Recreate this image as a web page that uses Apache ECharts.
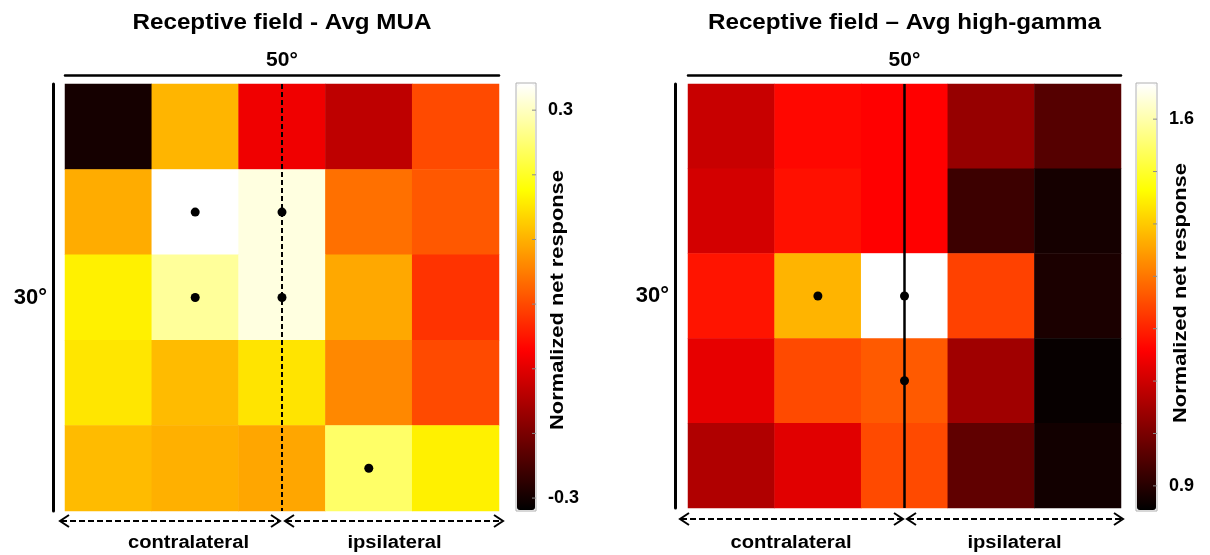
<!DOCTYPE html>
<html><head><meta charset="utf-8">
<script src="https://cdn.jsdelivr.net/npm/echarts@6/dist/echarts.min.js"></script>
<style>html,body{margin:0;padding:0;background:#fff}#c{width:1210px;height:555px}</style>
</head><body><div id="c"></div>
<script>
// ---------- data ----------
const columns = ['1', '2', '3', '4', '5'];
const rows = ['1', '2', '3', '4', '5'];
// rows top -> bottom, columns left -> right
const muaValues = [
  [-0.300, 0.104, -0.086, -0.135, 0.000],
  [0.096, 0.345, 0.322, 0.037, 0.014],
  [0.163, 0.276, 0.322, 0.092, -0.022],
  [0.152, 0.110, 0.150, 0.061, 0.000],
  [0.110, 0.100, 0.090, 0.243, 0.163]
];
const gammaValues = [
  [1.092, 1.167, 1.158, 1.032, 0.954],
  [1.105, 1.177, 1.158, 0.924, 0.877],
  [1.183, 1.375, 1.675, 1.236, 0.885],
  [1.130, 1.247, 1.266, 1.044, 0.860],
  [1.064, 1.122, 1.247, 0.967, 0.874]
];
// significant cells: [column, row]
const muaDots = [[1, 1], [2, 1], [1, 2], [2, 2], [3, 4]];
const gammaDots = [[1, 2], [2, 2], [2, 3]];
const midlineColumn = 2;
const muaRange = [-0.320, 0.342];
const gammaRange = [0.852, 1.669];
const muaTicks = [-0.3, -0.2, -0.1, 0, 0.1, 0.2, 0.3];
const muaTickLabels = [-0.3, 0.3];
const gammaTicks = [0.9, 1.0, 1.1, 1.2, 1.3, 1.4, 1.5, 1.6];
const gammaTickLabels = [0.9, 1.6];
const titles = ['Receptive field - Avg MUA', 'Receptive field \u2013 Avg high-gamma'];
const widthLabel = '50°';
const heightLabel = '30°';
const sideLabels = ['contralateral', 'ipsilateral'];
const colorbarTitle = 'Normalized net response';

// ---------- style ----------
const hot = ['#000000', '#550000', '#aa0000', '#ff0000', '#ff5500', '#ffaa00', '#ffff00', '#ffff80', '#ffffff'];
const FONT = '"Liberation Sans", Arial, sans-serif';
const panels = [
  { grid: { left: 65, top: 84, width: 434, height: 427 }, cbar: { left: 517, top: 84, width: 18, height: 426 },
    values: muaValues, dots: muaDots, range: muaRange, ticks: muaTicks, tickLabels: muaTickLabels,
    dashed: true, yOffset: 12, labelX: [188.5, 394.5], cbarLabelX: 558, cbarLabelY: 300,
    arrows: [[60, 280], [285, 503]], arrowY: 521 },
  { grid: { left: 688, top: 84, width: 433, height: 424 }, cbar: { left: 1137, top: 84, width: 19, height: 426 },
    values: gammaValues, dots: gammaDots, range: gammaRange, ticks: gammaTicks, tickLabels: gammaTickLabels,
    dashed: false, yOffset: 13, labelX: [791, 1014.5], cbarLabelX: 1181, cbarLabelY: 293,
    arrows: [[680, 903], [907, 1123]], arrowY: 519 }
];

const grid = [], xAxis = [], yAxis = [], series = [], visualMap = [], graphic = [];
panels.forEach((p, i) => {
  const gi = grid.length;
  grid.push(Object.assign({ containLabel: false }, p.grid));
  grid.push(Object.assign({ containLabel: false, show: true, borderColor: '#b0b0b0', borderWidth: 1,
    backgroundColor: 'transparent' }, {
    left: p.cbar.left - 1, top: p.cbar.top - 1, width: p.cbar.width + 2, height: p.cbar.height + 2 }));
  xAxis.push({
    gridIndex: gi, type: 'category', data: columns, position: 'top', offset: 9,
    axisLine: { show: true, lineStyle: { color: '#000', width: 2.5 } },
    axisTick: { show: false }, axisLabel: { show: false }, splitLine: { show: false },
    name: widthLabel, nameLocation: 'middle', nameGap: 4,
    nameTextStyle: { fontFamily: FONT, fontWeight: 'bold', fontSize: 21, color: '#000' }
  });
  yAxis.push({
    gridIndex: gi, type: 'category', data: rows, inverse: true, position: 'left', offset: p.yOffset,
    axisLine: { show: true, lineStyle: { color: '#000', width: 3 } },
    axisTick: { show: false }, axisLabel: { show: false }, splitLine: { show: false },
    name: heightLabel, nameLocation: 'middle', nameRotate: 0, nameGap: 6,
    nameTextStyle: { fontFamily: FONT, fontWeight: 'bold', fontSize: 22, color: '#000' }
  });
  xAxis.push({ gridIndex: gi + 1, type: 'value', show: false, min: 0, max: 1 });
  yAxis.push({
    gridIndex: gi + 1, type: 'value', min: p.range[0], max: p.range[1], position: 'right',
    axisLine: { show: false }, splitLine: { show: false }, axisTick: { show: false },
    axisLabel: { show: true, customValues: p.tickLabels, margin: 12, fontFamily: FONT, fontWeight: 'bold',
      fontSize: 18, color: '#000', formatter: v => String(Math.round(v * 10) / 10) }
  });
  const hmIndex = series.length;
  const data = [];
  p.values.forEach((row, r) => row.forEach((v, c) => data.push([c, r, v])));
  series.push({
    type: 'heatmap', xAxisIndex: gi, yAxisIndex: gi, data: data,
    itemStyle: { borderWidth: 0 }, emphasis: { disabled: true }, silent: true, progressive: 0
  });
  series.push({
    type: 'scatter', xAxisIndex: gi, yAxisIndex: gi, data: p.dots, symbolSize: 9, silent: true,
    itemStyle: { color: '#000', opacity: 1 }, z: 5,
    markLine: {
      silent: true, symbol: 'none', label: { show: false },
      lineStyle: { color: '#000', opacity: 1, width: p.dashed ? 2 : 2.5, type: p.dashed ? [5, 3] : 'solid' },
      data: [{ xAxis: midlineColumn }]
    }
  });
  // colorbar tick marks (inside, right edge)
  series.push({
    type: 'scatter', xAxisIndex: gi + 1, yAxisIndex: gi + 1, data: p.ticks.map(v => [1, v]),
    symbol: 'rect', symbolSize: [4, 1], symbolOffset: [-2, 0], silent: true, z: 20, zlevel: 0,
    itemStyle: { color: '#8c8c8c', opacity: 1 }
  });
  visualMap.push({
    type: 'continuous', seriesIndex: hmIndex, dimension: 2, min: p.range[0], max: p.range[1],
    calculable: false, orient: 'vertical', left: p.cbar.left, top: p.cbar.top, padding: 0,
    itemWidth: p.cbar.width, itemHeight: p.cbar.height, text: null, showLabel: false, hoverLink: false,
    inRange: { color: hot }, z: 4
  });

  const cx = p.grid.left + p.grid.width / 2;
  graphic.push({ type: 'text', x: cx, y: 23, scaleX: 1.1, silent: true,
    style: { text: titles[i], fill: '#000', font: 'bold 22px ' + FONT, textAlign: 'center', textVerticalAlign: 'middle' } });
  graphic.push({ type: 'text', x: p.cbarLabelX, y: p.cbarLabelY, rotation: Math.PI / 2, scaleX: 1.15, silent: true,
    style: { text: colorbarTitle, fill: '#000', font: 'bold 19px ' + FONT, textAlign: 'center', textVerticalAlign: 'middle' } });
  sideLabels.forEach((s, k) => {
    graphic.push({ type: 'text', x: p.labelX[k], y: 543, scaleX: 1.12, silent: true,
      style: { text: s, fill: '#000', font: 'bold 18px ' + FONT, textAlign: 'center', textVerticalAlign: 'middle' } });
  });
  const y = p.arrowY;
  p.arrows.forEach(([a, b]) => {
    graphic.push({ type: 'line', silent: true, shape: { x1: a + 1, y1: y, x2: b - 1, y2: y },
      style: { stroke: '#000', lineWidth: 2, lineDash: [6, 3] } });
    graphic.push({ type: 'polyline', silent: true, shape: { points: [[a + 9, y - 6], [a, y], [a + 9, y + 6]] },
      style: { stroke: '#000', lineWidth: 2, fill: null } });
    graphic.push({ type: 'polyline', silent: true, shape: { points: [[b - 9, y - 6], [b, y], [b - 9, y + 6]] },
      style: { stroke: '#000', lineWidth: 2, fill: null } });
  });
});

const chart = echarts.init(document.getElementById('c'), null, { renderer: 'canvas' });
chart.setOption({
  backgroundColor: '#fff', animation: false,
  textStyle: { fontFamily: FONT },
  grid, xAxis, yAxis, series, visualMap, graphic
});
</script></body></html>
